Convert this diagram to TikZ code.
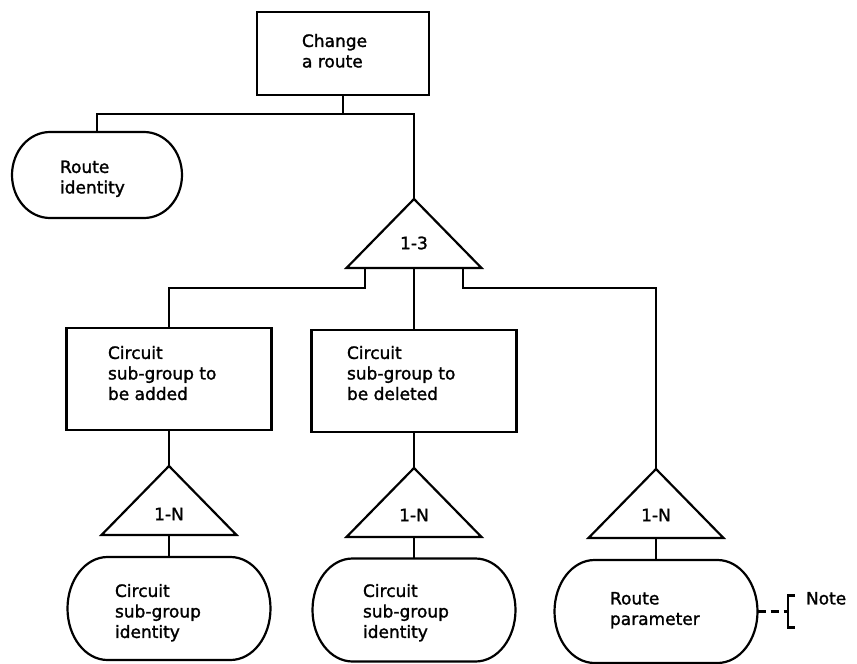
\documentclass[tikz,border=0pt]{standalone}
\usepackage{fontspec}
\setmainfont{DejaVu Sans}[FakeBold=1.5]
\usetikzlibrary{calc}
\newcommand\mytri[2]{%
  \coordinate (#1) at #2;
  \draw[ln] (#1) -- ++(67.5,69) -- ++(-135,0) -- cycle;
  \coordinate (#1b) at ($(#1)+(0,69)$);
}
% name, centre, width, height, x radius, y radius
\newcommand\myoval[6]{%
  \node[minimum width=#3pt, minimum height=#4pt] (#1) at #2 {};
  \draw[ln] ($(#1.north west)+(#5,0)$) -- ($(#1.north east)+(-#5,0)$)
    arc[start angle=-90, end angle=90, x radius=#5, y radius=#6]
    -- ($(#1.south west)+(#5,0)$)
    arc[start angle=90, end angle=270, x radius=#5, y radius=#6] -- cycle;
}
\begin{document}
\begin{tikzpicture}[x=1pt,y=-1pt,
  every node/.style={inner sep=0pt, outer sep=0pt},
  ln/.style={line width=2.2pt},
  rectbox/.style={draw, line width=2.2pt, rectangle, minimum width=205pt, minimum height=102pt},
  txt/.style={font=\fontsize{17}{20.5}\selectfont, align=left, anchor=north west},
  lab/.style={font=\fontsize{17}{20.5}\selectfont}
]
\useasboundingbox (0,0) rectangle (857,664);

% shapes
\node[rectbox, minimum width=172pt, minimum height=83pt] (A) at (343,53.5) {};
\myoval{RI}{(97,175)}{170}{86}{38}{43}
\mytri{T1}{(414,199)}
\coordinate (T1l) at ($(T1)+(-49,69)$);
\coordinate (T1r) at ($(T1)+(49,69)$);
\node[rectbox] (B1) at (169,379) {};
\node[rectbox] (B2) at (414,381) {};
\mytri{T2}{(169,466)}
\mytri{T3}{(414,468)}
\mytri{T4}{(656,469)}
\myoval{O1}{(169,608.5)}{203}{103}{40}{51.5}
\myoval{O2}{(414,610)}{203}{103}{40}{51.5}
\myoval{O3}{(656,611.5)}{203}{103}{40}{51.5}

% texts
\node[txt] (At) at (302,34) {Change\\a route};
\node[txt] (RIt) at (60,160.5) {Route\\identity};
\node[lab] (T1t) at (414,243) {1-3};
\node[txt] (B1t) at (108,346) {Circuit\\sub-group to\\be added};
\node[txt] (B2t) at (347,346) {Circuit\\sub-group to\\be deleted};
\node[lab] (T2t) at (169,514) {1-N};
\node[lab] (T3t) at (414,515) {1-N};
\node[lab] (T4t) at (656,515) {1-N};
\node[txt] (O1t) at (115,584) {Circuit\\sub-group\\identity};
\node[txt] (O2t) at (363,584) {Circuit\\sub-group\\identity};
\node[txt] (O3t) at (610,592) {Route\\parameter};
\node[txt] (N) at (806,592) {Note};

% connectors
\draw[ln] (A.south) -- ++(0,19) coordinate (j1);
\draw[ln] (j1) -| (RI.north);
\draw[ln] (j1) -| (T1);
\draw[ln] (T1l) -- ++(0,20) -| (B1.north);
\draw[ln] (T1b) -- (B2.north);
\draw[ln] (T1r) -- ++(0,20) -| (T4);
\draw[ln] (B1.south) -- (T2);
\draw[ln] (B2.south) -- (T3);
\draw[ln] (T2b) -- (O1.north);
\draw[ln] (T3b) -- (O2.north);
\draw[ln] (T4b) -- (O3.north);
\coordinate (nb) at (788,611.5);
\draw[ln, dash pattern=on 8pt off 5pt] (O3.east) -- (nb);
\draw[ln] ($(nb)+(7,-16)$) -- ++(-7,0) -- ++(0,32) -- ++(7,0);
\end{tikzpicture}
\end{document}
